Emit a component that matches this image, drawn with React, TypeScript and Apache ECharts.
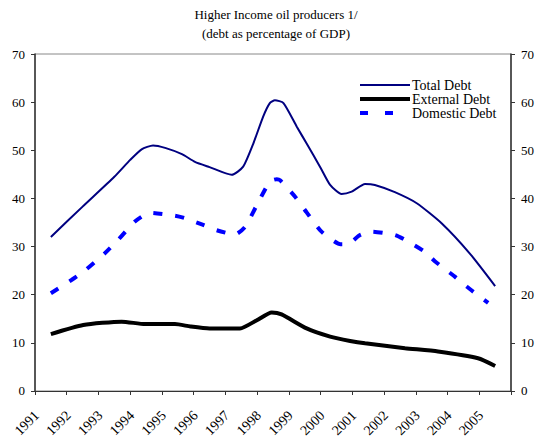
import React, { useEffect, useRef } from "react";
import * as echarts from "echarts";

const years = ["1991","1992","1993","1994","1995","1996","1997","1998","1999","2000","2001","2002","2003","2004","2005"];
const seriesNames = ["Total Debt", "External Debt", "Domestic Debt"];

const totalX = [1991.0,1992.0,1993.0,1993.5,1993.86,1994.22,1994.6,1995.13,1995.54,1996.0,1996.7,1997.06,1997.38,1997.69,1997.9,1998.06,1998.33,1998.75,1999.06,1999.48,1999.8,2000.16,2000.48,2000.9,2001.21,2001.84,2002.53,2003.32,2004.21,2005.0];
const totalY = [32.0,38.3,44.5,48.0,50.2,51.0,50.5,49.2,47.6,46.5,44.9,46.6,51.4,57.0,59.8,60.4,59.8,54.9,51.4,46.6,42.8,40.9,41.4,43.0,42.8,41.3,39.0,34.8,28.5,21.8];

const externalX = [1991.0,1992.02,1993.23,1993.97,1994.91,1995.4,1996.0,1996.96,1997.49,1997.96,1998.27,1999.06,1999.8,2000.43,2000.9,2002.16,2003.2,2004.46,2005.0];
const externalY = [11.8,13.7,14.4,13.9,13.9,13.4,13.0,13.0,14.7,16.3,15.9,13.0,11.3,10.4,9.9,8.9,8.2,6.8,5.2];

const domesticX = [1991.0,1991.66,1992.07,1992.7,1993.12,1993.65,1994.12,1994.91,1995.22,1995.8,1996.22,1996.8,1997.12,1997.49,1997.9,1998.12,1998.22,1998.69,1999.06,1999.53,2000.13,2000.35,2000.74,2001.11,2001.84,2002.16,2002.79,2003.11,2003.74,2004.1,2004.78];
const domesticY = [20.3,23.1,25.0,28.6,31.4,35.2,37.0,36.4,35.9,34.5,33.4,32.5,34.1,38.6,43.5,44.0,43.8,40.4,37.1,33.1,30.5,30.5,32.4,33.1,32.4,31.4,28.9,26.9,23.7,21.7,18.3];

const FONT = "Liberation Serif";
const COLORS = ["#000080", "#000000", "#0000FF"];
const WIDTHS = [2, 4, 4];
const DASH = [9, 13];

export default function App() {
  const ref = useRef<HTMLDivElement>(null);
  useEffect(() => {
    if (!ref.current) return;
    const chart = echarts.init(ref.current, null, { renderer: "svg" });
    const pair = (xs: number[], ys: number[]) => xs.map((x, i) => [x, ys[i]]);
    const yAxisBase = {
      type: "value",
      min: 0,
      max: 70,
      interval: 10,
      splitLine: { show: false },
      axisLine: { show: true, lineStyle: { color: "#333", width: 1.5 } },
      axisTick: { show: true, length: 4, lineStyle: { color: "#333" } },
      axisLabel: { margin: 10, fontFamily: FONT, fontSize: 13, color: "#000" },
    };
    const legendGraphics: any[] = [];
    seriesNames.forEach((name, i) => {
      const y = 85 + i * 14;
      legendGraphics.push({
        type: "line",
        shape: { x1: 360, y1: y, x2: 410, y2: y },
        style: { stroke: COLORS[i], lineWidth: WIDTHS[i], lineDash: i === 2 ? [8, 17] : null },
      });
      legendGraphics.push({
        type: "text",
        x: 412,
        y: y,
        style: { text: name, fontFamily: FONT, fontSize: 14, fill: "#000", align: "left", verticalAlign: "middle" },
      });
    });
    chart.setOption({
      animation: false,
      backgroundColor: "#fff",
      textStyle: { fontFamily: FONT },
      grid: { left: 35, right: 26, top: 54, bottom: 49, show: true, borderColor: "#888", borderWidth: 1 },
      graphic: [
        { type: "text", x: 276, y: 14, style: { text: "Higher Income oil producers 1/", fontFamily: FONT, fontSize: 13, fill: "#000", align: "center", verticalAlign: "middle" } },
        { type: "text", x: 276, y: 33, style: { text: "(debt as percentage of GDP)", fontFamily: FONT, fontSize: 13, fill: "#000", align: "center", verticalAlign: "middle" } },
        ...legendGraphics,
      ],
      xAxis: [
        {
          type: "category",
          data: years,
          boundaryGap: true,
          axisLine: { show: true, lineStyle: { color: "#333", width: 1 } },
          axisTick: { show: true, length: 4, alignWithLabel: false, lineStyle: { color: "#333" } },
          axisLabel: { rotate: 45, margin: 8, padding: [0, 20, 0, 0], fontFamily: FONT, fontSize: 14, color: "#000", interval: 0 },
          splitLine: { show: false },
        },
        {
          type: "value",
          min: 1990.5,
          max: 2005.5,
          show: false,
          splitLine: { show: false },
        },
      ],
      yAxis: [
        { ...yAxisBase, position: "left" },
        { ...yAxisBase, position: "right" },
      ],
      series: [
        {
          name: seriesNames[0],
          type: "line",
          xAxisIndex: 1,
          yAxisIndex: 0,
          data: pair(totalX, totalY),
          symbol: "none",
          smooth: 0.2,
          lineStyle: { color: COLORS[0], width: WIDTHS[0] },
          itemStyle: { color: COLORS[0] },
        },
        {
          name: seriesNames[1],
          type: "line",
          xAxisIndex: 1,
          yAxisIndex: 0,
          data: pair(externalX, externalY),
          symbol: "none",
          smooth: 0.2,
          lineStyle: { color: COLORS[1], width: WIDTHS[1] },
          itemStyle: { color: COLORS[1] },
        },
        {
          name: seriesNames[2],
          type: "line",
          xAxisIndex: 1,
          yAxisIndex: 0,
          data: pair(domesticX, domesticY),
          symbol: "none",
          smooth: 0.2,
          lineStyle: { color: COLORS[2], width: WIDTHS[2], type: DASH, cap: "butt" },
          itemStyle: { color: COLORS[2] },
        },
      ],
    });
    return () => chart.dispose();
  }, []);
  return <div ref={ref} style={{ width: 537, height: 440, position: "absolute", left: 0, top: 0 }} />;
}
